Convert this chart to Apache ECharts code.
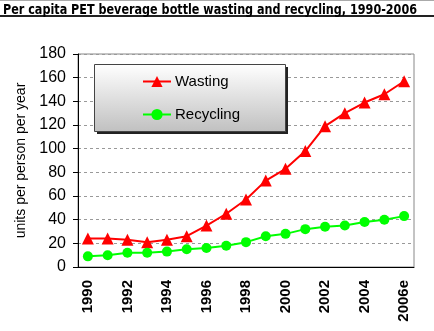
<!DOCTYPE html>
<html>
<head>
<meta charset="utf-8">
<script src="https://cdn.jsdelivr.net/npm/echarts@6/dist/echarts.min.js"></script>
<style>
  html, body { margin: 0; padding: 0; background: #fff; }
  #chart { width: 434px; height: 331px; }
</style>
</head>
<body>
<div id="chart"></div>
<script>
// Years on the category axis ("e" = estimate)
const years = ['1990','1991','1992','1993','1994','1995','1996','1997','1998',
               '1999','2000','2001','2002','2003','2004','2005','2006e'];
// Bottles per person per year
const wasting   = [24, 24, 23, 21, 23, 26, 35, 45, 57, 73, 83, 98, 119, 130, 139, 146, 157];
const recycling = [9, 10, 12, 12, 13, 15, 16, 18, 21, 26, 28, 32, 34, 35, 38, 40, 43];
// Only every other year is labelled
const shownYears = ['1990','1992','1994','1996','1998','2000','2002','2004','2006e'];

const titleText = 'Per capita PET beverage bottle wasting and recycling, 1990-2006';
const titleFont = 'bold 14px "DejaVu Sans Condensed"';
// squeeze the heading so it spans the banner width
const measureCtx = document.createElement('canvas').getContext('2d');
measureCtx.font = titleFont;
const titleScale = 414 / measureCtx.measureText(titleText).width;

const chart = echarts.init(document.getElementById('chart'));
chart.setOption({
  animation: false,
  graphic: [
    { type: 'line', z: 1, shape: { x1: 0, y1: 0.5, x2: 434, y2: 0.5 }, style: { stroke: '#aaa', lineWidth: 1 } },
    {
      type: 'text', z: 2, x: 3, y: 17, scaleX: titleScale, originX: 0,
      style: { text: titleText, font: titleFont, fill: '#000', verticalAlign: 'bottom' }
    },
    { type: 'line', z: 1, shape: { x1: 0, y1: 16, x2: 434, y2: 16 }, style: { stroke: '#222', lineWidth: 2 } },
    // legend panel: drop shadow, then gradient-filled box
    {
      type: 'rect', left: 97, top: 67, z: 4,
      shape: { width: 191, height: 67 },
      style: { fill: '#222' }
    },
    {
      type: 'rect', left: 94, top: 64, z: 5,
      shape: { width: 191, height: 67 },
      style: {
        fill: new echarts.graphic.LinearGradient(0, 0, 0, 1, [
          { offset: 0, color: '#ffffff' }, { offset: 1, color: '#c0c0c0' }
        ]),
        stroke: '#444', lineWidth: 1
      }
    }
  ],
  legend: {
    orient: 'vertical', left: 142, top: 74, z: 10, padding: 0,
    itemGap: 18, itemWidth: 28, itemHeight: 14,
    textStyle: { fontFamily: 'Liberation Sans', fontSize: 15, color: '#000', padding: [0, 0, 0, -1] },
    data: ['Wasting', 'Recycling']
  },
  grid: { left: 78, right: 20, top: 54, bottom: 64, show: true, borderColor: '#888', borderWidth: 1 },
  xAxis: {
    type: 'category', data: years, boundaryGap: true,
    axisLine: { lineStyle: { color: '#000', width: 1 } },
    axisTick: { length: 5, interval: 0, lineStyle: { color: '#000' } },
    axisLabel: {
      rotate: 90, margin: 13, interval: 0,
      fontFamily: 'Liberation Sans', fontWeight: 'bold', fontSize: 15, color: '#000',
      formatter: v => shownYears.includes(v) ? v : ''
    }
  },
  yAxis: {
    type: 'value', min: 0, max: 180, interval: 20,
    name: 'units per person per year', nameLocation: 'middle', nameGap: 46,
    nameTextStyle: { fontFamily: 'Liberation Sans', fontSize: 14, color: '#000' },
    axisLine: { show: true, lineStyle: { color: '#000' } },
    axisTick: { show: true, length: 5, lineStyle: { color: '#000' } },
    axisLabel: { fontFamily: 'Liberation Sans', fontSize: 16, color: '#000', margin: 12 },
    splitLine: { lineStyle: { color: '#999', type: [3, 3] } }
  },
  series: [
    {
      name: 'Wasting', type: 'line', data: wasting,
      symbol: 'triangle', symbolSize: 12,
      lineStyle: { color: '#ff0000', width: 2 },
      itemStyle: { color: '#ff0000' }
    },
    {
      name: 'Recycling', type: 'line', data: recycling,
      symbol: 'circle', symbolSize: 10,
      lineStyle: { color: '#00ff00', width: 2 },
      itemStyle: { color: '#00ff00' }
    }
  ]
});
</script>
</body>
</html>
